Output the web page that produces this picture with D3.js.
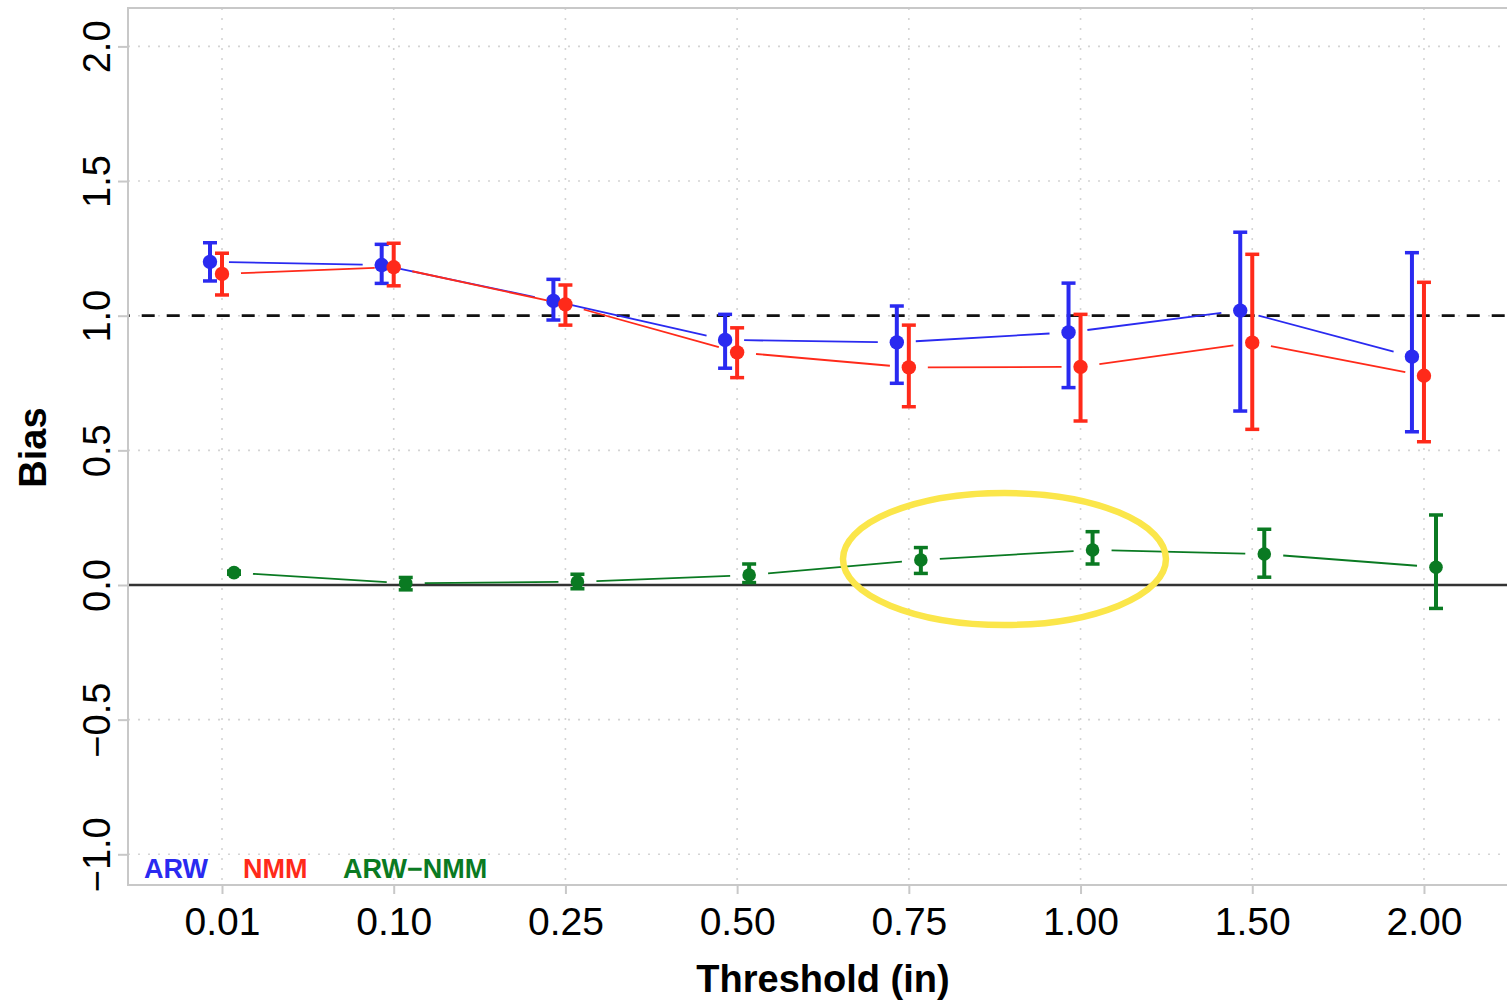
<!DOCTYPE html>
<html>
<head>
<meta charset="utf-8">
<script src="https://cdn.jsdelivr.net/npm/d3@7"></script>
<style>
  html, body { margin: 0; padding: 0; background: #fff; }
  svg { display: block; font-family: "Liberation Sans", Arial, Helvetica, sans-serif; }
</style>
</head>
<body>
<svg id="chart" width="1507" height="1002"></svg>
<script>
// ---------------- data ----------------
const categories = ["0.01", "0.10", "0.25", "0.50", "0.75", "1.00", "1.50", "2.00"];
const yTicks = [-1, -0.5, 0, 0.5, 1, 1.5, 2];

const arwBias = [1.200, 1.188, 1.055, 0.910, 0.901, 0.938, 1.019, 0.848];
const arwLo   = [1.129, 1.120, 0.984, 0.805, 0.749, 0.733, 0.646, 0.569];
const arwHi   = [1.271, 1.265, 1.135, 1.005, 1.036, 1.121, 1.310, 1.234];

const nmmBias = [1.155, 1.180, 1.042, 0.864, 0.808, 0.810, 0.900, 0.777];
const nmmLo   = [1.077, 1.111, 0.965, 0.770, 0.662, 0.609, 0.578, 0.532];
const nmmHi   = [1.232, 1.269, 1.114, 0.955, 0.965, 1.005, 1.228, 1.124];

const diffBias = [0.046, 0.006, 0.012, 0.037, 0.093, 0.130, 0.115, 0.066];
const diffLo   = [0.040, -0.018, -0.014, 0.009, 0.043, 0.078, 0.029, -0.087];
const diffHi   = [0.052, 0.028, 0.040, 0.078, 0.139, 0.198, 0.207, 0.260];

const seriesNames = ["ARW", "NMM", "ARW\u2212NMM"];
const seriesColors = ["#2a2af0", "#ff2a1a", "#0a7a22"];
const seriesOffsets = [-0.07, 0, 0.07];

const refLineValue = 1;      // dashed reference
const zeroLineValue = 0;     // solid reference
// highlight annotation (data units: category index, bias)
const highlight = { cx: 5.557, cy: 0.0966, rx: 0.9405, ry: 0.245 };

(function () {
// ---------------- layout ----------------
const svg = d3.select("#chart");
const pLeft = 128, pTop = 8, pBottom = 885;
const x = d3.scaleLinear().domain([0.4526, 8.55]).range([pLeft, pLeft + (8.55 - 0.4526) * 171.71]);
const y = d3.scaleLinear().domain([-1.114, 2.1426]).range([pBottom, pTop]);
const pRight = x.range()[1];

const series = [
  { name: seriesNames[0], color: seriesColors[0], off: seriesOffsets[0], v: arwBias, lo: arwLo, hi: arwHi, r: 7.2 },
  { name: seriesNames[1], color: seriesColors[1], off: seriesOffsets[1], v: nmmBias, lo: nmmLo, hi: nmmHi, r: 7.2 },
  { name: seriesNames[2], color: seriesColors[2], off: seriesOffsets[2], v: diffBias, lo: diffLo, hi: diffHi, r: 6.8 }
];

const idx = categories.map((c, i) => i + 1);

// grid
const grid = svg.append("g");
grid.selectAll("line.v").data(idx).join("line").attr("class", "v")
  .attr("x1", d => x(d)).attr("x2", d => x(d)).attr("y1", pTop).attr("y2", pBottom)
  .attr("stroke", "#d4d4d4").attr("stroke-width", 1.6).attr("stroke-dasharray", "2,8");
grid.selectAll("line.h").data(yTicks).join("line").attr("class", "h")
  .attr("x1", pLeft).attr("x2", pRight).attr("y1", d => y(d)).attr("y2", d => y(d))
  .attr("stroke", "#d4d4d4").attr("stroke-width", 1.6).attr("stroke-dasharray", "2,8");

// reference lines
svg.append("line").attr("x1", pLeft).attr("x2", pRight)
  .attr("y1", y(zeroLineValue)).attr("y2", y(zeroLineValue))
  .attr("stroke", "#333").attr("stroke-width", 2.6);
svg.append("line").attr("x1", pLeft).attr("x2", pRight)
  .attr("y1", y(refLineValue)).attr("y2", y(refLineValue))
  .attr("stroke", "#111").attr("stroke-width", 2.8)
  .attr("stroke-dasharray", "13,12").attr("stroke-dashoffset", 11.3);

// plot box
svg.append("rect").attr("x", pLeft).attr("y", pTop)
  .attr("width", pRight - pLeft).attr("height", pBottom - pTop)
  .attr("fill", "none").attr("stroke", "#c8c8c8").attr("stroke-width", 2);

// axes
const xAxis = d3.axisBottom(x).tickValues(idx).tickFormat((d, i) => categories[i])
  .tickSize(9).tickPadding(0);
const gx = svg.append("g").attr("transform", `translate(0,${pBottom})`).call(xAxis);
gx.select(".domain").remove();
gx.selectAll(".tick line").attr("stroke", "#c8c8c8").attr("stroke-width", 2);
gx.selectAll(".tick text").attr("y", 50).attr("dy", 0)
  .attr("font-size", 39).attr("fill", "#000")
  .attr("font-family", "'Liberation Sans', Arial, Helvetica, sans-serif");

const yAxis = d3.axisLeft(y).tickValues(yTicks).tickFormat(d3.format(".1f")).tickSize(10);
const gy = svg.append("g").attr("transform", `translate(${pLeft},0)`).call(yAxis);
gy.select(".domain").remove();
gy.selectAll(".tick line").attr("stroke", "#c8c8c8").attr("stroke-width", 2);
gy.selectAll(".tick text")
  .attr("transform", "rotate(-90)")
  .attr("x", 0).attr("y", -18).attr("dy", 0)
  .attr("text-anchor", "middle")
  .attr("font-size", 38).attr("fill", "#000")
  .attr("font-family", "'Liberation Sans', Arial, Helvetica, sans-serif");

// axis titles
svg.append("text").attr("transform", `translate(46,${(pTop + pBottom) / 2 + 1}) rotate(-90)`)
  .attr("text-anchor", "middle").attr("font-size", 38).attr("font-weight", "bold")
  .text("Bias");
svg.append("text").attr("x", 823).attr("y", 992)
  .attr("text-anchor", "middle").attr("font-size", 38).attr("font-weight", "bold")
  .text("Threshold (in)");

// series: lines with gaps (type "b"), error bars, points
const gap = 19;
series.forEach(s => {
  const pts = s.v.map((v, i) => [x(i + 1 + s.off), y(v)]);
  const g = svg.append("g");
  const segs = [];
  for (let i = 0; i < pts.length - 1; i++) {
    const [x1, y1] = pts[i], [x2, y2] = pts[i + 1];
    const len = Math.hypot(x2 - x1, y2 - y1);
    const ux = (x2 - x1) / len, uy = (y2 - y1) / len;
    segs.push([x1 + ux * gap, y1 + uy * gap, x2 - ux * gap, y2 - uy * gap]);
  }
  g.selectAll("line.seg").data(segs).join("line").attr("class", "seg")
    .attr("x1", d => d[0]).attr("y1", d => d[1]).attr("x2", d => d[2]).attr("y2", d => d[3])
    .attr("stroke", s.color).attr("stroke-width", 1.8);

  const eb = s.v.map((v, i) => ({ cx: x(i + 1 + s.off), lo: y(s.lo[i]), hi: y(s.hi[i]), cy: y(v) }));
  g.selectAll("line.eb").data(eb).join("line").attr("class", "eb")
    .attr("x1", d => d.cx).attr("x2", d => d.cx).attr("y1", d => d.lo).attr("y2", d => d.hi)
    .attr("stroke", s.color).attr("stroke-width", 4);
  ["lo", "hi"].forEach(k => {
    g.selectAll("line.cap" + k).data(eb).join("line").attr("class", "cap" + k)
      .attr("x1", d => d.cx - 7).attr("x2", d => d.cx + 7)
      .attr("y1", d => d[k]).attr("y2", d => d[k])
      .attr("stroke", s.color).attr("stroke-width", 3.5);
  });
  g.selectAll("circle").data(eb).join("circle")
    .attr("cx", d => d.cx).attr("cy", d => d.cy).attr("r", s.r).attr("fill", s.color);
});

// legend
const legendX = [144, 243, 343];
series.forEach((s, i) => {
  svg.append("text").attr("x", legendX[i]).attr("y", 878)
    .attr("font-size", 27).attr("font-weight", "bold").attr("fill", s.color)
    .text(s.name);
});

// highlight ellipse
svg.append("ellipse")
  .attr("cx", x(highlight.cx)).attr("cy", y(highlight.cy))
  .attr("rx", x(highlight.cx + highlight.rx) - x(highlight.cx))
  .attr("ry", y(highlight.cy - highlight.ry) - y(highlight.cy))
  .attr("fill", "none").attr("stroke", "#fbe64a").attr("stroke-width", 6.5);
})();
</script>
</body>
</html>
